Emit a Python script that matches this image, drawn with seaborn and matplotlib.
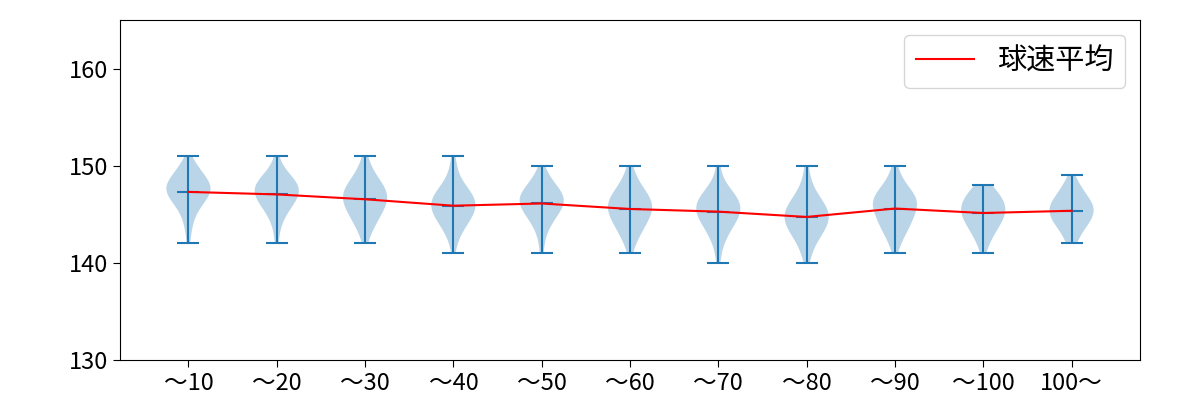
import numpy as np
import pandas as pd
import matplotlib
matplotlib.use("Agg")
import matplotlib.pyplot as plt
import seaborn as sns

plt.rcParams["font.family"] = ["Noto Sans CJK JP", "DejaVu Sans"]

# pitch-count bins
bin_labels = ["〜10", "〜20", "〜30", "〜40", "〜50", "〜60",
              "〜70", "〜80", "〜90", "〜100", "100〜"]

# slowest speed (km/h) in each bin, then pitch counts per 1 km/h upward
min_speed = [142, 142, 142, 141, 141, 141, 140, 140, 141, 141, 142]
speed_counts = [
    [1, 1, 2, 3, 6, 10, 11, 7, 4, 1],
    [1, 1, 2, 4, 7, 10, 10, 6, 2, 1],
    [1, 2, 4, 6, 8, 9, 7, 4, 2, 1],
    [1, 1, 3, 5, 8, 9, 8, 4, 2, 1, 1],
    [1, 1, 2, 4, 7, 10, 10, 6, 3, 1],
    [1, 2, 4, 6, 8, 9, 7, 4, 2, 1],
    [1, 1, 2, 4, 6, 9, 9, 7, 3, 1, 1],
    [1, 2, 3, 6, 8, 9, 7, 4, 2, 1, 1],
    [1, 2, 4, 6, 7, 9, 8, 4, 2, 1],
    [1, 2, 4, 6, 8, 8, 6, 3],
    [2, 3, 6, 8, 8, 5, 3, 1],
]

rows = []
for label, lo, counts in zip(bin_labels, min_speed, speed_counts):
    speeds = np.repeat(np.arange(lo, lo + len(counts)), counts)
    rows.append(pd.DataFrame({"bin": label, "speed": speeds}))
df = pd.concat(rows, ignore_index=True)

stats = df.groupby("bin", sort=False)["speed"].agg(["min", "max", "mean"])
stats = stats.reindex(bin_labels)
pos = np.arange(len(bin_labels))

blue = "#1f77b4"
fig, ax = plt.subplots(figsize=(12, 4), dpi=100)
fig.subplots_adjust(left=0.1, right=0.95, bottom=0.1, top=0.95)

sns.violinplot(data=df, x="bin", y="speed", order=bin_labels, cut=0,
               inner=None, density_norm="width", width=0.5, color=blue,
               saturation=1, linewidth=0, ax=ax)
for coll in ax.collections:
    coll.set_alpha(0.3)
    coll.set_edgecolor("none")

# extrema and mean markers like matplotlib's violinplot
ax.vlines(pos, stats["min"], stats["max"], color=blue, lw=1.5)
ax.hlines(stats["min"], pos - 0.125, pos + 0.125, color=blue, lw=1.5)
ax.hlines(stats["max"], pos - 0.125, pos + 0.125, color=blue, lw=1.5)
ax.hlines(stats["mean"], pos - 0.125, pos + 0.125, color=blue, lw=1.5)

sns.lineplot(x=pos, y=stats["mean"].values, color="red", lw=1.5,
             label="球速平均", ax=ax)

ax.set_xlim(-0.775, 10.775)
ax.set_ylim(130, 165)
ax.set_yticks([130, 140, 150, 160])
ax.set_xticks(pos)
ax.set_xticklabels(bin_labels)
ax.set_xlabel("")
ax.set_ylabel("")
ax.tick_params(labelsize=17, length=5)
ax.legend(loc="upper right", fontsize=21)

fig.savefig("out.png", dpi=100)
